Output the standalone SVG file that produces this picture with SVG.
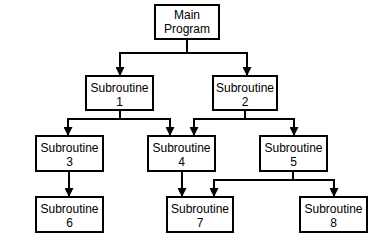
<svg xmlns="http://www.w3.org/2000/svg" width="382" height="242" viewBox="0 0 382 242">
<style>
.box{fill:#fff;stroke:#000;stroke-width:2}
.t{font-family:"Liberation Sans",Arial,sans-serif;font-size:12px;fill:#000;text-anchor:middle}
.c{fill:none;stroke:#000;stroke-width:2}
</style>
<defs>
<marker id="ah" viewBox="0 0 10 10" refX="10" refY="5" markerWidth="10" markerHeight="9" markerUnits="userSpaceOnUse" orient="auto">
<path d="M0,0 L10,5 L0,10 z" fill="#000"/>
</marker>
</defs>
<rect width="382" height="242" fill="#fff"/>
<g id="connectors">
<path class="c" d="M187,40 V53 M119,53 H248"/>
<path class="c" d="M120,53 V76" marker-end="url(#ah)"/>
<path class="c" d="M247,53 V76" marker-end="url(#ah)"/>
<path class="c" d="M120,111 V119 M67,119 H171"/>
<path class="c" d="M68,119 V136" marker-end="url(#ah)"/>
<path class="c" d="M170,119 V136" marker-end="url(#ah)"/>
<path class="c" d="M245,111 V119 M193,119 H295"/>
<path class="c" d="M194,119 V136" marker-end="url(#ah)"/>
<path class="c" d="M294,119 V136" marker-end="url(#ah)"/>
<path class="c" d="M69,171 V197" marker-end="url(#ah)"/>
<path class="c" d="M182,171 V197" marker-end="url(#ah)"/>
<path class="c" d="M293,171 V180 M213,180 H335"/>
<path class="c" d="M214,180 V197" marker-end="url(#ah)"/>
<path class="c" d="M334,180 V197" marker-end="url(#ah)"/>
</g>
<g id="main"><rect class="box" x="155" y="5" width="64" height="34"/><text class="t" x="187" y="19">Main</text><text class="t" x="187" y="33">Program</text></g>
<g id="sub1"><rect class="box" x="86" y="76" width="67" height="34"/><text class="t" x="119.5" y="91.5">Subroutine</text><text class="t" x="119.5" y="106">1</text></g>
<g id="sub2"><rect class="box" x="213" y="76" width="64" height="34"/><text class="t" x="245" y="91.5">Subroutine</text><text class="t" x="245" y="106">2</text></g>
<g id="sub3"><rect class="box" x="36" y="136" width="67" height="35"/><text class="t" x="69.5" y="151.5">Subroutine</text><text class="t" x="69.5" y="166">3</text></g>
<g id="sub4"><rect class="box" x="148" y="136" width="67" height="35"/><text class="t" x="181.5" y="151.5">Subroutine</text><text class="t" x="181.5" y="166">4</text></g>
<g id="sub5"><rect class="box" x="260" y="136" width="67" height="35"/><text class="t" x="293.5" y="151.5">Subroutine</text><text class="t" x="293.5" y="166">5</text></g>
<g id="sub6"><rect class="box" x="36" y="197" width="67" height="35"/><text class="t" x="69.5" y="212.5">Subroutine</text><text class="t" x="69.5" y="227">6</text></g>
<g id="sub7"><rect class="box" x="167" y="197" width="66" height="35"/><text class="t" x="200" y="212.5">Subroutine</text><text class="t" x="200" y="227">7</text></g>
<g id="sub8"><rect class="box" x="300" y="197" width="67" height="35"/><text class="t" x="333.5" y="212.5">Subroutine</text><text class="t" x="333.5" y="227">8</text></g>
</svg>
